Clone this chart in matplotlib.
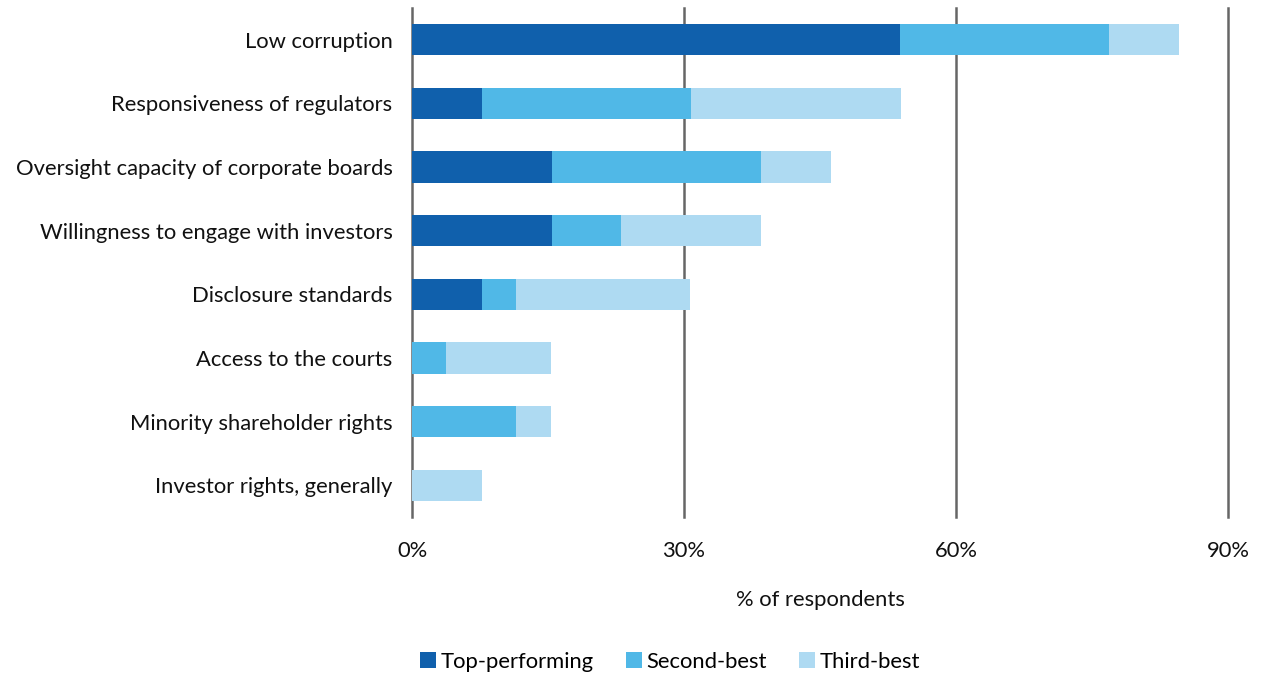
import numpy as np
import matplotlib.pyplot as plt

# survey shares, % of respondents
categories = ["Low corruption", "Responsiveness of regulators",
              "Oversight capacity of corporate boards",
              "Willingness to engage with investors", "Disclosure standards",
              "Access to the courts", "Minority shareholder rights",
              "Investor rights, generally"]
top_performing = [53.8, 7.7, 15.4, 15.4, 7.7, 0.0, 0.0, 0.0]
second_best = [23.1, 23.1, 23.1, 7.7, 3.8, 3.8, 11.5, 0.0]
third_best = [7.7, 23.1, 7.7, 15.4, 19.2, 11.5, 3.8, 7.7]
series_names = ["Top-performing", "Second-best", "Third-best"]
colors = ["#1060ac", "#50b8e7", "#aedaf2"]
xticks = [0, 30, 60, 90]

plt.rcParams['font.family'] = ['Lato', 'DejaVu Sans']
fs = 15.8

fig = plt.figure(figsize=(12.62, 6.73), dpi=100)
ax = fig.add_axes([412/1262, 1 - 517/673, (1228-412)/1262, (517-8)/673])

y = np.arange(len(categories))
left = np.zeros(len(categories))
for vals, name, c in zip([top_performing, second_best, third_best], series_names, colors):
    ax.barh(y, vals, left=left, height=0.49, color=c, label=name, zorder=3)
    left += np.array(vals)

ax.set_ylim(len(categories) - 0.5, -0.5)
ax.set_xlim(0, 90)
ax.set_yticks(y)
ax.set_yticklabels(categories, fontsize=fs, color='#111111')
ax.set_xticks(xticks)
ax.set_xticklabels([f"{t}%" for t in xticks], fontsize=fs, color='#111111')
ax.tick_params(axis='both', length=0)
ax.tick_params(axis='y', pad=14)
ax.tick_params(axis='x', pad=17)
for s in ax.spines.values():
    s.set_visible(False)
ax.grid(axis='x', color='#666666', linewidth=1.8, zorder=0)
for gl in ax.get_xgridlines():
    gl.set_clip_on(False)
ax.set_xlabel("% of respondents", fontsize=fs, color='#111111', labelpad=21)

handles, labels = ax.get_legend_handles_labels()
fig.legend(handles, labels, loc='center', bbox_to_anchor=(670/1262, 1 - 662/673),
           ncol=3, frameon=False, fontsize=fs, handlelength=0.75, handleheight=0.75,
           handletextpad=0.2, columnspacing=1.45)

fig.savefig("out.png", dpi=100)
